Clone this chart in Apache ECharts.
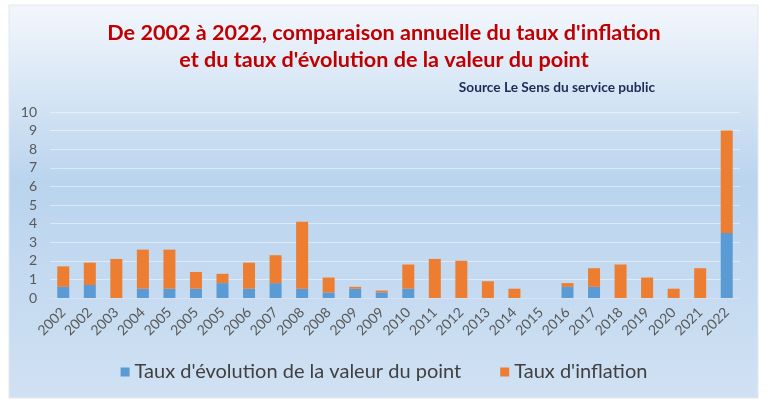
<!DOCTYPE html>
<html><head><meta charset="utf-8">
<script src="https://cdn.jsdelivr.net/npm/echarts@6/dist/echarts.min.js"></script>
<style>html,body{margin:0;padding:0;background:#fff}#c{width:768px;height:406px}</style>
</head><body><div id="c"></div>
<script>
const categories = ['2002','2002','2003','2004','2005','2005','2005','2006','2007','2008','2008','2009','2009','2010','2011','2012','2013','2014','2015','2016','2017','2018','2019','2020','2021','2022'];
const pointValues = [0.6,0.7,0,0.5,0.5,0.5,0.8,0.5,0.8,0.5,0.3,0.5,0.3,0.5,0,0,0,0,0,0.6,0.6,0,0,0,0,3.5];
const inflationValues = [1.1,1.2,2.1,2.1,2.1,0.9,0.5,1.4,1.5,3.6,0.8,0.1,0.1,1.3,2.1,2.0,0.9,0.5,0,0.2,1.0,1.8,1.1,0.5,1.6,5.5];
const yTicks = [0,1,2,3,4,5,6,7,8,9,10];

const FONT = 'Lato,"Open Sans",sans-serif';
const chart = echarts.init(document.getElementById('c'));
chart.setOption({
  animation: false,
  backgroundColor: '#ffffff',
  graphic: [{
    type: 'rect', z: -10, silent: true,
    shape: {x: 9, y: 5, width: 749, height: 393},
    style: {
      fill: new echarts.graphic.LinearGradient(0, 0, 0, 1, [
        {offset: 0, color: '#f3f7fc'},
        {offset: 0.45, color: '#bad4ee'},
        {offset: 1, color: '#d0e1f3'}
      ]),
      stroke: '#e2e8ef', lineWidth: 1
    }
  }],
  title: [{
    text: "De 2002 à 2022, comparaison annuelle du taux d'inflation\net du taux d'évolution de la valeur du point",
    left: 'center', top: 15,
    textStyle: {color: '#c00000', fontFamily: FONT, fontWeight: 'bold', fontSize: 21.6, lineHeight: 27, align: 'center'}
  }, {
    text: 'Source Le Sens du service public',
    right: 108, top: 76,
    textStyle: {color: '#1f2a55', fontFamily: FONT, fontWeight: 'bold', fontSize: 13.7}
  }],
  legend: {
    bottom: 19, left: 'center', itemGap: 39, itemWidth: 9, itemHeight: 9,
    icon: 'rect',
    textStyle: {color: '#404040', fontFamily: FONT, fontSize: 20},
    data: ["Taux d'évolution de la valeur du point", "Taux d'inflation"]
  },
  grid: {left: 50, right: 28, top: 112, bottom: 108, containLabel: false},
  xAxis: {
    type: 'category', data: categories,
    axisLine: {lineStyle: {color: '#d6e2ef'}},
    axisTick: {show: false},
    axisLabel: {rotate: 45, color: '#595959', fontFamily: FONT, fontSize: 14, interval: 0, margin: 12}
  },
  yAxis: {
    type: 'value', min: 0, max: 10, interval: 1,
    axisLine: {show: false}, axisTick: {show: false},
    axisLabel: {color: '#595959', fontFamily: FONT, fontSize: 14, margin: 13,
      formatter: v => yTicks.includes(v) ? String(v) : ''},
    splitLine: {lineStyle: {color: 'rgba(255,255,255,0.45)', width: 1}}
  },
  series: [{
    name: "Taux d'évolution de la valeur du point", type: 'bar', stack: 't',
    data: pointValues, barWidth: 12,
    itemStyle: {color: '#5b9bd5'}
  }, {
    name: "Taux d'inflation", type: 'bar', stack: 't',
    data: inflationValues, barWidth: 12,
    itemStyle: {color: '#ed7d31'}
  }]
});
</script></body></html>
